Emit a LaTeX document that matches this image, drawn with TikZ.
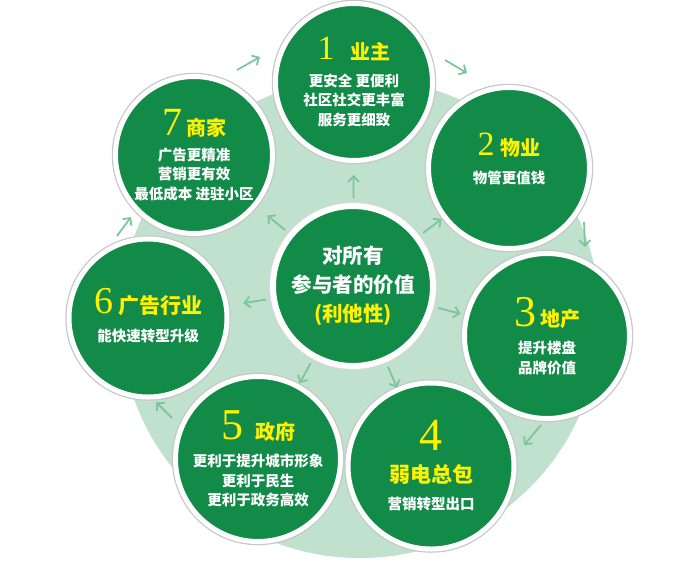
\documentclass[tikz,border=0pt]{standalone}
\usepackage{fontspec}
\usepackage{tikz}
\usetikzlibrary{arrows.meta,calc}

\setmainfont{Noto Sans CJK SC}
\newfontfamily\numfont{Liberation Serif}

\definecolor{leaf}{HTML}{128A48}
\definecolor{mint}{HTML}{BFE1CD}
\definecolor{sprout}{HTML}{7CC69B}
\definecolor{sun}{HTML}{FFF200}

\newcommand{\numb}[2]{{\numfont\mdseries\fontsize{#1}{#1}\selectfont\color{sun}#2}}
\newcommand{\head}[2][20]{{\fontsize{#1}{#1}\selectfont\color{sun}#2}}

\begin{document}
\begin{tikzpicture}[x=1pt,y=-1pt,
	party/.style={shape=circle,fill=leaf,draw=white,line width=5pt,inner sep=0pt,
		align=center,text=white,font=\bfseries\fontsize{14.5}{19.5}\selectfont,
		preaction={draw=black!22,line width=7.5pt}},
	flow/.style={draw=sprout,line width=1.8pt,-{Straight Barb[length=5.5pt,width=11pt]}}]

	\useasboundingbox (0,0) rectangle (700,574);
	\node[shape=circle,fill=mint,minimum size=480pt,inner sep=0pt] (bg) at (360,318) {};

	\node[party,minimum size=157pt] (owner)      at (354, 82) {\numb{34}{1}\hspace{16pt}\head{业主}\\[7pt]更安全 更便利\\社区社交更丰富\\服务更细致};
	\node[party,minimum size=161pt,text depth=20pt] (estate) at (509,168) {\numb{34}{2}\hspace{6pt}\head{物业}\\[8pt]物管更值钱};
	\node[party,minimum size=165pt] (developer)  at (547,336) {\numb{44}{3}\hspace{4pt}\head{地产}\\[8pt]提升楼盘\\品牌价值};
	\node[party,minimum size=166pt] (integrator) at (431,466) {\numb{46}{4}\\[12pt]\head[21]{弱电总包}\\[8pt]营销转型出口};
	\node[party,minimum size=165pt] (govt)       at (258,459) {\numb{44}{5}\hspace{12pt}\head{政府}\\[8pt]更利于提升城市形象\\更利于民生\\更利于政务高效};
	\node[party,minimum size=158pt,text depth=6pt] (adagency) at (148,318) {\numb{38}{6}\hspace{5pt}\head[21]{广告行业}\\[9pt]能快速转型升级};
	\node[party,minimum size=157pt] (merchant)   at (194,155) {\numb{40}{7}\hspace{4pt}\head{商家}\\[5pt]广告更精准\\营销更有效\\最低成本 进驻小区};

	\node[party,line width=6pt,minimum size=160pt,preaction={draw=black!15,line width=8pt},
		font=\bfseries\fontsize{20.5}{29}\selectfont] (core) at (353,286)
		{对所有\\参与者的价值\\{\color{sun}(利他性)}};

	% from the middle outwards
	\draw[flow] ($(core)!88pt!(owner)$)      -- ($(core)!111pt!(owner)$);
	\draw[flow] ($(core)!88pt!(estate)$)     -- ($(core)!111pt!(estate)$);
	\draw[flow] ($(core)!88pt!(developer)$)  -- ($(core)!111pt!(developer)$);
	\draw[flow] ($(core)!88pt!(integrator)$) -- ($(core)!111pt!(integrator)$);
	\draw[flow] ($(core)!88pt!(govt)$)       -- ($(core)!111pt!(govt)$);
	\draw[flow] ($(core)!88pt!(adagency)$)   -- ($(core)!111pt!(adagency)$);
	\draw[flow] ($(core)!88pt!(merchant)$)   -- ($(core)!111pt!(merchant)$);

	% round the ring
	\coordinate (t71) at (237,70);  \coordinate (h71) at (260,57);
	\coordinate (t12) at (445,60);  \coordinate (h12) at (467,73);
	\coordinate (t23) at (584,222); \coordinate (h23) at (585,247);
	\coordinate (t34) at (541,425); \coordinate (h34) at (524,445);
	\coordinate (t56) at (172,418); \coordinate (h56) at (156,402);
	\coordinate (t67) at (117,236); \coordinate (h67) at (131,217);
	\draw[flow] (t71) -- (h71);
	\draw[flow] (t12) -- (h12);
	\draw[flow] (t23) -- (h23);
	\draw[flow] (t34) -- (h34);
	\draw[flow] (t56) -- (h56);
	\draw[flow] (t67) -- (h67);
\end{tikzpicture}
\end{document}
